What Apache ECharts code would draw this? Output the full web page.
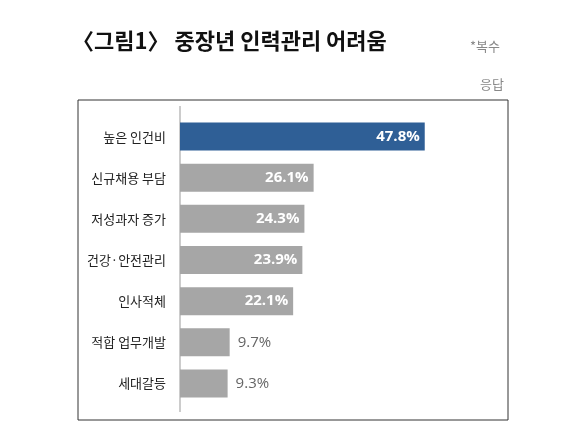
<!DOCTYPE html>
<html><head><meta charset="utf-8">
<script src="https://cdn.jsdelivr.net/npm/echarts@6/dist/echarts.min.js"></script>
<style>body{margin:0;background:#fff}#c{width:568px;height:446px}</style></head>
<body><div id="c"></div>
<script>
const categories=['높은 인건비','신규채용 부담','저성과자 증가','건강·안전관리','인사적체','적합 업무개발','세대갈등'];
const values=[47.8,26.1,24.3,23.9,22.1,9.7,9.3];
const f='"Noto Sans CJK KR", sans-serif';
const chart=echarts.init(document.getElementById('c'));
chart.setOption({
  animation:false,
  graphic:[
    {type:'rect',shape:{x:78,y:100,width:430,height:320},style:{fill:'none',stroke:'#333',lineWidth:1}},
    {type:'line',shape:{x1:180,y1:106,x2:180,y2:412},style:{stroke:'#999',lineWidth:1}},
    {type:'text',left:72,top:30,style:{text:'〈그림1〉 중장년 인력관리 어려움',font:'bold 22px '+f,fill:'#111'}},
    {type:'text',left:470,top:40,style:{text:'*복수',font:'13px '+f,fill:'#888'}},
    {type:'text',left:480,top:78,style:{text:'응답',font:'13px '+f,fill:'#888'}}
  ],
  grid:{left:180,right:132,top:116,bottom:42},
  xAxis:{type:'value',min:0,max:50,show:false},
  yAxis:{type:'category',data:categories,inverse:true,axisLine:{show:false},axisTick:{show:false},
    axisLabel:{color:'#222',fontSize:13,fontFamily:f,margin:14}},
  series:[{type:'bar',barWidth:28,
    data:values.map((v,i)=>({value:v,itemStyle:{color:i===0?'#2F5F96':'#A6A6A6'},
      label:v>15?{position:'insideRight',color:'#fff',fontWeight:'bold',fontSize:15}:{position:'right',color:'#666',fontSize:15,distance:8}})),
    label:{show:true,formatter:p=>p.value.toFixed(1)+'%',fontFamily:'"Open Sans", sans-serif'}
  }]
});
</script></body></html>
